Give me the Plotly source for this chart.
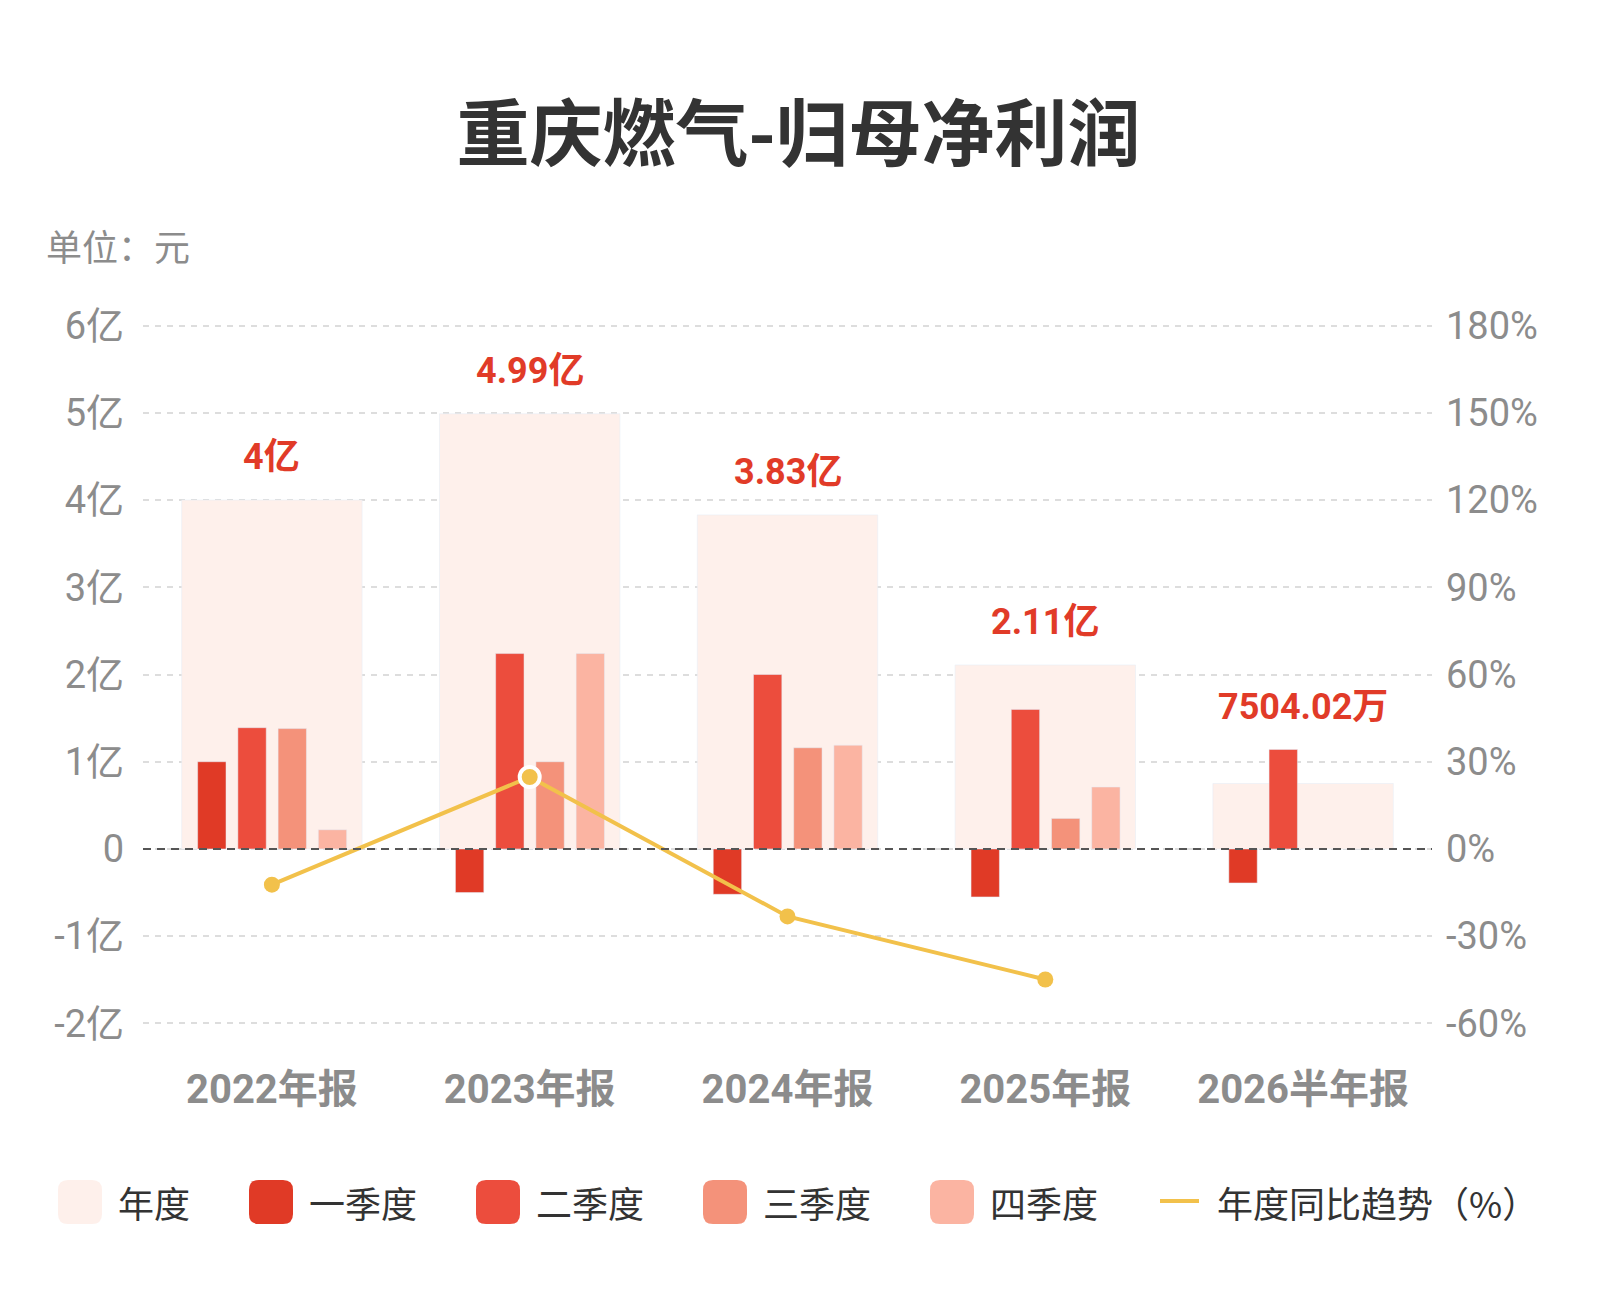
import plotly.graph_objects as go

# 数据（单位：亿元；同比为 %）
categories = ["2022年报", "2023年报", "2024年报", "2025年报", "2026半年报"]
annual = [4.00, 4.99, 3.83, 2.11, 0.7504]
q1 = [1.00, -0.50, -0.52, -0.55, -0.39]
q2 = [1.39, 2.24, 2.00, 1.60, 1.14]
q3 = [1.38, 1.00, 1.16, 0.35, None]
q4 = [0.22, 2.24, 1.19, 0.71, None]
yoy = [-12.3, 24.75, -23.2, -44.9, None]
annual_labels = ["4亿", "4.99亿", "3.83亿", "2.11亿", "7504.02万"]

left_ticks = [-2, -1, 0, 1, 2, 3, 4, 5, 6]
left_ticktext = [f"{v}亿" if v else "0" for v in left_ticks]
right_ticks = [-60, -30, 0, 30, 60, 90, 120, 150, 180]
right_ticktext = [f"{v}%" for v in right_ticks]

legend_names = ["年度", "一季度", "二季度", "三季度", "四季度", "年度同比趋势（%）"]

C_ANNUAL = "#FEF0EB"
C_Q = ["#E03A26", "#EC4D3D", "#F4927A", "#FBB4A2"]
C_LINE = "#F2C14B"
C_RED = "#E13B28"
FONT = "Roboto, Noto Sans CJK SC, sans-serif"
CJK = "Noto Sans CJK SC, sans-serif"

W, H = 1600, 1300
L, R, T, B = 135, 176, 315, 282


def px(x):
    return (x - L) / (W - L - R)


def py(y):
    return (H - B - y) / (H - T - B)


fig = go.Figure()

fig.add_trace(go.Bar(
    x=categories, y=annual, name="年度", marker_color=C_ANNUAL,
    width=0.7, offset=-0.35,
))

offsets = [-0.288, -0.132, 0.024, 0.180]
for name, vals, col, off in zip(legend_names[1:5], [q1, q2, q3, q4], C_Q, offsets):
    fig.add_trace(go.Bar(
        x=categories, y=vals, name=name, marker_color=col,
        width=0.11, offset=off,
    ))

fig.add_trace(go.Scatter(
    x=categories, y=yoy, yaxis="y2", mode="lines+markers",
    name=legend_names[5],
    line=dict(color=C_LINE, width=4),
    marker=dict(size=[16, 20, 16, 16, 16], color=C_LINE, opacity=1,
                line=dict(color="white", width=[0, 4, 0, 0, 0])),
))

# 年度数值标签：放在该期最高柱上方
for i, (cat, lab) in enumerate(zip(categories, annual_labels)):
    top = max(v for v in (annual[i], q1[i], q2[i], q3[i], q4[i]) if v is not None)
    fig.add_annotation(
        x=cat, y=top, text=f"<b>{lab}</b>", showarrow=False,
        yanchor="middle", yshift=43,
        font=dict(family=FONT, size=36, color=C_RED),
    )

# 零线
fig.add_shape(type="line", xref="paper", yref="y", x0=0, x1=1, y0=0, y1=0,
              line=dict(color="#555555", width=2, dash="8px,6px"))

# 单位
fig.add_annotation(
    xref="paper", yref="paper", x=px(36), y=py(237), text="单位：元",
    showarrow=False, xanchor="left", yanchor="middle",
    font=dict(family=CJK, size=36, color="#8C8C8C"),
)

# 自定义图例
r = 10
h = 22
swatch_path = (f"M {-h + r},{-h} L {h - r},{-h} Q {h},{-h} {h},{-h + r} "
               f"L {h},{h - r} Q {h},{h} {h - r},{h} L {-h + r},{h} "
               f"Q {-h},{h} {-h},{h - r} L {-h},{-h + r} Q {-h},{-h} {-h + r},{-h} Z")
colors = [C_ANNUAL] + C_Q
x = 50
ly = 1194
for i, name in enumerate(legend_names):
    if i < 5:
        fig.add_shape(type="path", xref="paper", yref="paper",
                      xsizemode="pixel", ysizemode="pixel",
                      xanchor=px(x + 22), yanchor=py(ly), path=swatch_path,
                      fillcolor=colors[i], line=dict(width=0))
    else:
        fig.add_shape(type="line", xref="paper", yref="paper",
                      x0=px(x + 3), x1=px(x + 42), y0=py(ly - 1), y1=py(ly - 1),
                      line=dict(color=C_LINE, width=4))
    fig.add_annotation(
        xref="paper", yref="paper", x=px(x + 58), y=py(ly), text=name,
        showarrow=False, xanchor="left", yanchor="middle",
        font=dict(family=CJK, size=36, color="#333333"),
    )
    x += 44 + 18 + 36 * len(name) + 57

fig.update_layout(
    width=W, height=H,
    margin=dict(l=L, r=R, t=T, b=B, autoexpand=False),
    paper_bgcolor="white", plot_bgcolor="white",
    barmode="overlay", showlegend=False,
    title=dict(
        text="<b>重庆燃气-归母净利润</b>", x=0.494, xanchor="center",
        y=1 - 126 / H, yanchor="middle",
        font=dict(family=CJK, size=73, color="#333333"),
    ),
    xaxis=dict(
        type="category", showgrid=False, showline=False, zeroline=False,
        ticks="", ticklabelstandoff=36,
        tickfont=dict(family=FONT, size=40, color="#8C8C8C", weight="bold"),
    ),
    yaxis=dict(
        range=[-2.03, 6.03], tickvals=left_ticks, ticktext=left_ticktext,
        showgrid=True, gridcolor="#DDDDDD", gridwidth=1.5, griddash="6px,6px",
        zeroline=False, showline=False, ticks="", ticklabelstandoff=18,
        tickfont=dict(family=FONT, size=38, color="#8C8C8C"),
    ),
    yaxis2=dict(
        overlaying="y", side="right", range=[-60.9, 180.9],
        tickvals=right_ticks, ticktext=right_ticktext,
        showgrid=False, zeroline=False, showline=False, ticks="",
        ticklabelstandoff=13,
        tickfont=dict(family=FONT, size=38, color="#8C8C8C"),
    ),
)

fig.write_html("out.html")
